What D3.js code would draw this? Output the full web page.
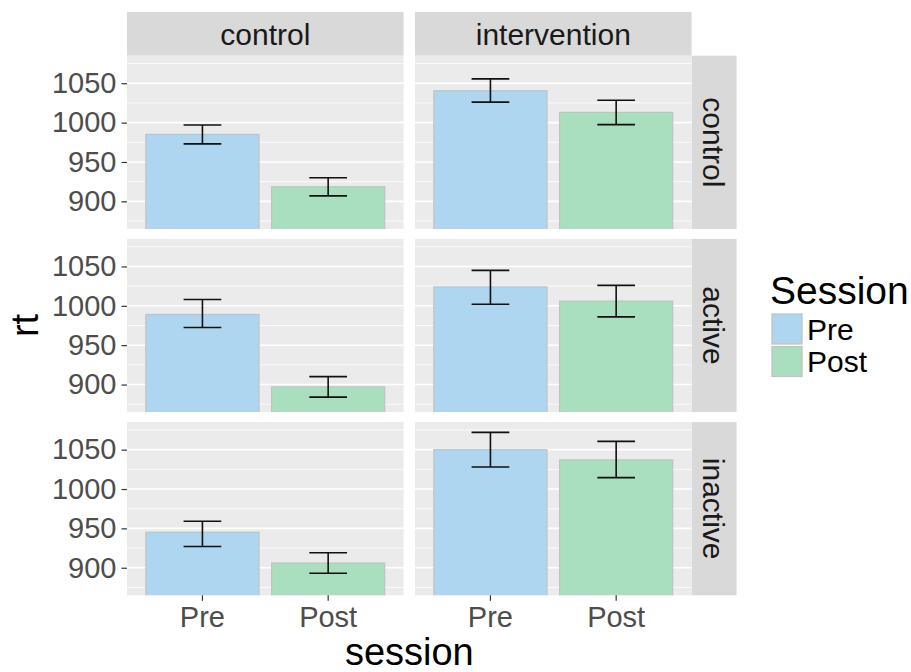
<!DOCTYPE html>
<html>
<head>
<meta charset="utf-8">
<script src="https://cdn.jsdelivr.net/npm/d3@7"></script>
<style>
  body { margin: 0; background: #fff; }
  svg { display: block; font-family: "Liberation Sans", Arial, sans-serif; }
</style>
</head>
<body>
<svg id="chart" width="911" height="672"></svg>
<script>
// Facets: columns = condition, rows = group
const colFacets = ["control", "intervention"];
const rowFacets = ["control", "active", "inactive"];
const sessions = ["Pre", "Post"];
const yTicks = [900, 950, 1000, 1050];
const yMinorTicks = [875, 925, 975, 1025, 1075];

// Mean rt per panel [row][col][session]
const meanRT = [
  [[985, 918.5], [1040.5, 1013]],
  [[989, 897],   [1024, 1006]],
  [[945, 906],   [1050, 1037]]
];
// Error bar lower / upper ends per panel [row][col][session]
const lowerRT = [
  [[973, 907],   [1026, 997.5]],
  [[972.5, 884], [1002, 986]],
  [[927, 893],   [1028, 1014.5]]
];
const upperRT = [
  [[997, 930],   [1055.5, 1028.5]],
  [[1008, 910],  [1045, 1026]],
  [[959, 919],   [1072, 1060.5]]
];

const fillColors = { Pre: "#aed6f1", Post: "#a9dfbf" };

const svg = d3.select("#chart");

// layout
const colX = [127, 415];
const panelW = 276.6;
const panelTop = 55.7;
const panelH = 173.2;
const rowGap = 10;
const stripTop = 12;
const stripRightW = 45;
const rowY = rowFacets.map((_, i) => panelTop + i * (panelH + rowGap));

const x = d3.scaleBand().domain(sessions).range([0, panelW])
  .paddingInner(0.1).paddingOuter(0.15);
const y = d3.scaleLinear().domain([865, 1085]).range([panelH, 0]);

const defs = svg.append("defs");
defs.append("clipPath").attr("id", "panelClip")
  .append("rect").attr("width", panelW).attr("height", panelH);

// top strips
colFacets.forEach((c, ci) => {
  const g = svg.append("g").attr("transform", `translate(${colX[ci]},${stripTop})`);
  g.append("rect").attr("width", panelW).attr("height", panelTop - stripTop).attr("fill", "#d9d9d9");
  g.append("text").attr("x", panelW / 2).attr("y", (panelTop - stripTop) / 2)
    .attr("dy", "0.36em").attr("text-anchor", "middle")
    .attr("font-size", 30).attr("fill", "#1a1a1a").text(c);
});

rowFacets.forEach((r, ri) => {
  // right strip
  const sx = colX[1] + panelW;
  const sg = svg.append("g").attr("transform", `translate(${sx},${rowY[ri]})`);
  sg.append("rect").attr("width", stripRightW).attr("height", panelH).attr("fill", "#d9d9d9");
  sg.append("text")
    .attr("transform", `translate(${stripRightW / 2},${panelH / 2}) rotate(90)`)
    .attr("dy", "0.36em").attr("text-anchor", "middle")
    .attr("font-size", 30).attr("fill", "#1a1a1a").text(r);

  colFacets.forEach((c, ci) => {
    const g = svg.append("g").attr("transform", `translate(${colX[ci]},${rowY[ri]})`);
    g.append("rect").attr("width", panelW).attr("height", panelH).attr("fill", "#ebebeb");

    g.selectAll("line.minor").data(yMinorTicks).join("line")
      .attr("x1", 0).attr("x2", panelW)
      .attr("y1", d => y(d)).attr("y2", d => y(d))
      .attr("stroke", "#fff").attr("stroke-width", 0.8);
    g.selectAll("line.major").data(yTicks).join("line")
      .attr("x1", 0).attr("x2", panelW)
      .attr("y1", d => y(d)).attr("y2", d => y(d))
      .attr("stroke", "#fff").attr("stroke-width", 1.6);

    const rows = sessions.map((s, si) => ({
      s, m: meanRT[ri][ci][si], lo: lowerRT[ri][ci][si], hi: upperRT[ri][ci][si]
    }));

    const clip = g.append("g").attr("clip-path", "url(#panelClip)");
    clip.selectAll("rect.bar").data(rows).join("rect")
      .attr("x", d => x(d.s)).attr("width", x.bandwidth())
      .attr("y", d => y(d.m)).attr("height", d => y(0) - y(d.m))
      .attr("fill", d => fillColors[d.s])
      .attr("stroke", "#c2c2c2").attr("stroke-width", 1.2);

    const ew = x.step() * 0.3;
    const eb = clip.selectAll("g.err").data(rows).join("g")
      .attr("transform", d => `translate(${x(d.s) + x.bandwidth() / 2},0)`);
    eb.append("line").attr("y1", d => y(d.lo)).attr("y2", d => y(d.hi))
      .attr("stroke", "#111").attr("stroke-width", 1.6);
    eb.append("line").attr("x1", -ew / 2).attr("x2", ew / 2)
      .attr("y1", d => y(d.lo)).attr("y2", d => y(d.lo))
      .attr("stroke", "#111").attr("stroke-width", 1.6);
    eb.append("line").attr("x1", -ew / 2).attr("x2", ew / 2)
      .attr("y1", d => y(d.hi)).attr("y2", d => y(d.hi))
      .attr("stroke", "#111").attr("stroke-width", 1.6);

    // y axis on the left column
    if (ci === 0) {
      const ax = g.append("g").call(d3.axisLeft(y).tickValues(yTicks)
        .tickFormat(d3.format("d")).tickSize(5.5).tickPadding(5));
      ax.select(".domain").remove();
      ax.selectAll(".tick line").attr("stroke", "#333").attr("stroke-width", 1.2);
      ax.selectAll(".tick text").attr("font-size", 29).attr("fill", "#4d4d4d")
        .attr("font-family", "Liberation Sans, Arial, sans-serif");
    }
    // x axis on the bottom row
    if (ri === rowFacets.length - 1) {
      const ax = g.append("g").attr("transform", `translate(0,${panelH})`)
        .call(d3.axisBottom(x).tickSize(5.5).tickPadding(6));
      ax.select(".domain").remove();
      ax.selectAll(".tick line").attr("stroke", "#333").attr("stroke-width", 1.2);
      ax.selectAll(".tick text").attr("font-size", 29).attr("fill", "#4d4d4d")
        .attr("font-family", "Liberation Sans, Arial, sans-serif");
    }
  });
});

// axis titles
svg.append("text")
  .attr("x", (colX[0] + colX[1] + panelW) / 2).attr("y", 665)
  .attr("text-anchor", "middle").attr("font-size", 38).attr("fill", "#000")
  .text("session");
svg.append("text")
  .attr("transform", `translate(38,${rowY[1] + panelH / 2}) rotate(-90)`)
  .attr("text-anchor", "middle").attr("font-size", 38).attr("fill", "#000")
  .text("rt");

// legend
const lg = svg.append("g").attr("transform", "translate(770,0)");
lg.append("text").attr("x", 0).attr("y", 304).attr("font-size", 39).attr("fill", "#000").text("Session");
const keyH = 32.5;
sessions.forEach((s, i) => {
  const ky = 313.5 + i * keyH;
  lg.append("rect").attr("x", 1.5).attr("y", ky).attr("width", 31).attr("height", 31)
    .attr("fill", "#f2f2f2");
  lg.append("rect").attr("x", 2).attr("y", ky + 0.5).attr("width", 30).attr("height", 30)
    .attr("fill", fillColors[s]).attr("stroke", "#c2c2c2").attr("stroke-width", 1.2);
  lg.append("text").attr("x", 37).attr("y", ky + 15.5).attr("dy", "0.36em")
    .attr("font-size", 30).attr("fill", "#000").text(s);
});
</script>
</body>
</html>
